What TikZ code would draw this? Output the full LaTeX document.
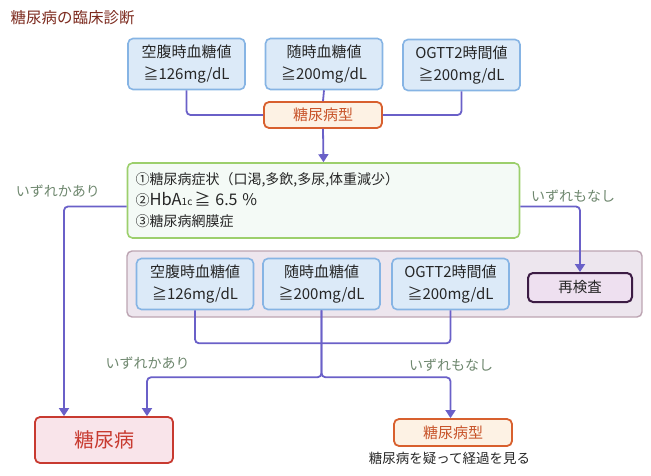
\documentclass[tikz,border=0pt]{standalone}
\usepackage{fontspec}
\setmainfont{Noto Sans CJK JP}
\usetikzlibrary{arrows.meta}
\definecolor{lineblue}{HTML}{6A60C8}
\definecolor{boxline}{HTML}{86B4E4}
\definecolor{boxfill}{HTML}{DCEAF8}
\definecolor{orline}{HTML}{D8602E}
\definecolor{orfill}{HTML}{FDF2E4}
\definecolor{ortext}{HTML}{C8542A}
\definecolor{grline}{HTML}{9CCF6C}
\definecolor{grfill}{HTML}{F4FAF6}
\definecolor{grpline}{HTML}{BCA4B2}
\definecolor{grpfill}{HTML}{EDE6EE}
\definecolor{reline}{HTML}{3C1C44}
\definecolor{refill}{HTML}{EEE0F0}
\definecolor{dmline}{HTML}{C83A30}
\definecolor{dmfill}{HTML}{F9E4EA}
\definecolor{labtext}{HTML}{6E876E}
\definecolor{titletext}{HTML}{7C2A1E}
\begin{document}
\begin{tikzpicture}[x=1pt,y=-1pt,
  val/.style={draw=boxline, fill=boxfill, line width=1.6pt, rounded corners=5pt,
    minimum width=117pt, minimum height=51pt, align=center,
    font=\fontsize{15}{22}\selectfont, text=black!85},
  typbox/.style={draw=orline, fill=orfill, line width=1.8pt, rounded corners=5pt,
    minimum width=118pt, minimum height=26pt, font=\fontsize{15}{18}\selectfont, text=ortext},
  conn/.style={draw=lineblue, line width=1.8pt, rounded corners=4pt},
  arr/.style={conn, -{Triangle[width=10pt,length=8pt]}},
  lab/.style={font=\fontsize{14}{16}\selectfont, text=labtext}]
\useasboundingbox (0,0) rectangle (651,476);
\node[anchor=west, font=\fontsize{15.5}{18}\selectfont, text=titletext] (title) at (7,18) {糖尿病の臨床診断};
\node[val] (t1) at (186.5,64) {空腹時血糖値\\≧126mg/dL};
\node[val] (t2) at (324,64) {随時血糖値\\≧200mg/dL};
\node[val] (t3) at (461.5,65) {OGTT2時間値\\≧200mg/dL};
\node[typbox] (typ) at (323,115) {糖尿病型};
\node[draw=grline, fill=grfill, line width=1.6pt, rounded corners=5pt, minimum height=75pt,
  text width=376pt, inner xsep=8pt, align=left, font=\fontsize{14}{21}\selectfont, text=black!85]
  (sym) at (323.5,200.5) {①糖尿病症状（口渇,多飲,多尿,体重減少）\\
  ②{\fontsize{16.5}{21}\selectfont HbA}{\fontsize{10}{10}\selectfont 1c}\,{\fontsize{16}{21}\selectfont ≧ 6.5 \%}\\
  ③糖尿病網膜症};
\node[draw=grpline, fill=grpfill, line width=1.4pt, rounded corners=5pt,
  minimum width=515pt, minimum height=66pt] (grp) at (384.5,284) {};
\node[val] (b4) at (195,284) {空腹時血糖値\\≧126mg/dL};
\node[val] (b5) at (321.5,284) {随時血糖値\\≧200mg/dL};
\node[val] (b6) at (450.5,284) {OGTT2時間値\\≧200mg/dL};
\node[draw=reline, fill=refill, line width=2pt, rounded corners=5pt, minimum width=104pt,
  minimum height=29pt, font=\fontsize{14.5}{18}\selectfont, text=black!85] (re) at (580,287.5) {再検査};
\node[draw=dmline, fill=dmfill, line width=1.8pt, rounded corners=5pt, minimum width=138pt,
  minimum height=46pt, font=\fontsize{20}{24}\selectfont, text=dmline] (dm) at (104,440) {糖尿病};
\node[typbox, minimum height=27pt] (typ2) at (453,432.5) {糖尿病型};
\node[font=\fontsize{13.5}{16}\selectfont, text=black!85] (note) at (449.5,458) {糖尿病を疑って経過を見る};
\node[lab] (any1) at (58,191) {いずれかあり};
\node[lab] (none1) at (573,196) {いずれもなし};
\node[lab] (any2) at (147.5,363) {いずれかあり};
\node[lab] (none2) at (451,365) {いずれもなし};
\draw[conn] (t1.south) |- (typ.west);
\draw[conn] (t3.south) |- (typ.east);
\draw[conn] (t2.south) -- (typ.north);
\draw[arr] (typ.south) -- (sym.north);
\draw[arr] ([yshift=-6pt]sym.west) -| ([xshift=-40pt]dm.north);
\draw[arr] ([yshift=-6pt]sym.east) -| (re.north);
\draw[conn] (b4.south) -- ++(0,33) -| (b6.south);
\draw[arr] (b5.south) -- ++(0,67) -| ([xshift=43pt]dm.north);
\draw[arr] (b5.south) -- ++(0,67) -| (typ2.north -| b6.south);
\end{tikzpicture}
\end{document}
